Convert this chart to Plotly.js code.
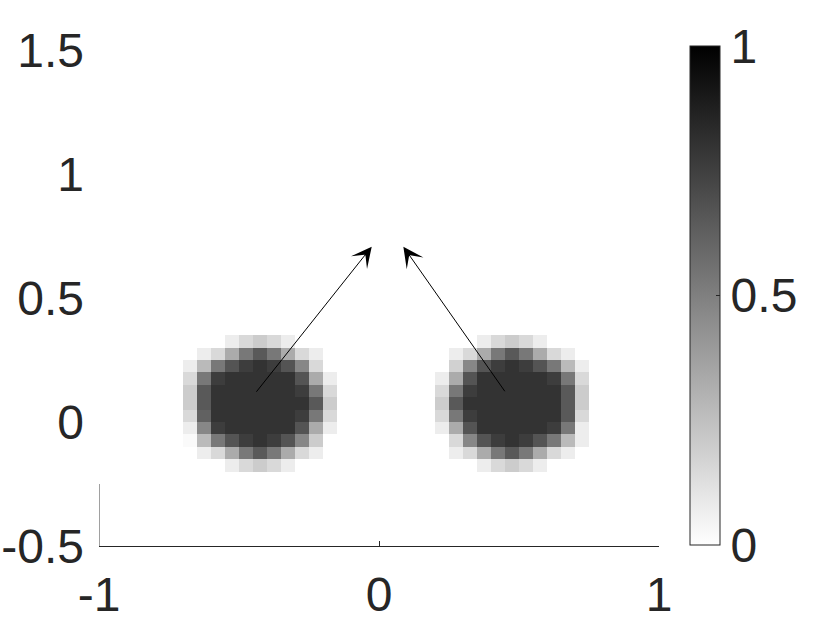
<!DOCTYPE html>
<html>
<head>
<meta charset="utf-8">
<script src="https://cdn.plot.ly/plotly-3.0.1.min.js"></script>
<style>html,body{margin:0;padding:0;background:#fff;}#plot{width:830px;height:623px;}</style>
</head>
<body>
<div id="plot"></div>
<script>
// Grid cell size and extent of the image
const cellSize = 0.05;
const xRange = [-1, 1];
const yRange = [-0.25, 1.5];

// Blob 1: 11x11 cells, rows read top (y=0.325) to bottom (y=-0.175), first column centre x=-0.675
const blob1X0 = -0.675;
const blob1Ytop = 0.325;
const blob1 = [
  [0,0,0,.07,.15,.2,.15,.07,0,0,0],
  [0,.07,.15,.33,.53,.65,.53,.33,.15,.07,0],
  [.07,.27,.53,.67,.76,.8,.76,.67,.47,.15,0],
  [.15,.53,.76,.8,.8,.8,.8,.8,.67,.33,.07],
  [.2,.65,.8,.8,.8,.8,.8,.8,.76,.53,.15],
  [.2,.65,.8,.8,.8,.8,.8,.8,.8,.65,.2],
  [.15,.62,.8,.8,.8,.8,.8,.8,.76,.53,.15],
  [.07,.47,.76,.8,.8,.8,.8,.8,.67,.33,.07],
  [.02,.27,.53,.67,.76,.8,.76,.67,.47,.2,0],
  [0,.07,.15,.33,.53,.65,.53,.33,.15,.07,0],
  [0,0,0,.07,.15,.2,.15,.07,0,0,0]
];

// Blob 2: first column centre x=0.225
const blob2X0 = 0.225;
const blob2Ytop = 0.325;
const blob2 = [
  [0,0,0,.07,.15,.2,.15,.07,0,0,0],
  [0,.07,.15,.33,.53,.65,.53,.33,.15,.07,0],
  [0,.18,.47,.67,.76,.8,.76,.67,.53,.27,.07],
  [.07,.33,.67,.8,.8,.8,.8,.8,.76,.53,.15],
  [.15,.53,.76,.8,.8,.8,.8,.8,.8,.65,.2],
  [.2,.65,.8,.8,.8,.8,.8,.8,.8,.65,.2],
  [.15,.53,.76,.8,.8,.8,.8,.8,.8,.65,.15],
  [.07,.33,.67,.8,.8,.8,.8,.8,.76,.53,.07],
  [0,.15,.47,.67,.76,.8,.76,.67,.53,.27,.07],
  [0,.07,.15,.33,.53,.65,.53,.33,.15,.07,0],
  [0,0,0,.07,.15,.2,.15,.07,0,0,0]
];

// Arrows: tail (x0,y0) -> tip (x1,y1)
const arrowTailX = [-0.442, 0.453];
const arrowTailY = [0.116, 0.118];
const arrowTipX = [-0.026, 0.087];
const arrowTipY = [0.707, 0.707];

// Tick labels
const xTicks = [-1, 0, 1];
const xTickText = ['-1', '0', '1'];
const yTicks = [-0.5, 0, 0.5, 1, 1.5];
const yTickText = ['-0.5', '0', '0.5', '1', '1.5'];
const cbTicks = [0, 0.5, 1];
const cbTickText = ['0', '0.5', '1'];

// ---- build grid ----
const nx = Math.round((xRange[1] - xRange[0]) / cellSize);
const ny = Math.round((yRange[1] - yRange[0]) / cellSize);
const xc = [], yc = [];
for (let i = 0; i < nx; i++) xc.push(+(xRange[0] + (i + 0.5) * cellSize).toFixed(4));
for (let j = 0; j < ny; j++) yc.push(+(yRange[0] + (j + 0.5) * cellSize).toFixed(4));
const z = [];
for (let j = 0; j < ny; j++) { z.push(new Array(nx).fill(0)); }
function place(blob, x0, ytop) {
  const ci = Math.round((x0 - xc[0]) / cellSize);
  const rTop = Math.round((ytop - yc[0]) / cellSize);
  for (let r = 0; r < blob.length; r++) {
    for (let c = 0; c < blob[r].length; c++) {
      z[rTop - r][ci + c] = blob[r][c];
    }
  }
}
place(blob1, blob1X0, blob1Ytop);
place(blob2, blob2X0, blob2Ytop);

const font = {family: 'Liberation Sans, Arial, Helvetica, sans-serif', size: 48, color: '#262626'};

const trace = {
  type: 'heatmap',
  x: xc, y: yc, z: z,
  zmin: 0, zmax: 1,
  colorscale: [[0, '#ffffff'], [1, '#000000']],
  hoverinfo: 'skip',
  colorbar: {
    thickness: 30, thicknessmode: 'pixels',
    len: 499, lenmode: 'pixels',
    x: 1.055, xanchor: 'left', xref: 'paper',
    y: 0.505, yanchor: 'middle',
    xpad: 0, ypad: 0,
    outlinewidth: 1, outlinecolor: '#262626',
    tickvals: cbTicks, ticktext: cbTickText,
    ticks: 'inside', ticklen: 4, tickcolor: '#262626',
    tickfont: font,
    ticklabelstandoff: 12
  }
};

const annotations = arrowTailX.map((_, i) => ({
  x: arrowTipX[i], y: arrowTipY[i], xref: 'x', yref: 'y',
  ax: arrowTailX[i], ay: arrowTailY[i], axref: 'x', ayref: 'y',
  showarrow: true, arrowhead: 3, arrowsize: 3.4, arrowwidth: 1,
  arrowcolor: '#000000', standoff: 0, text: ''
}));

const layout = {
  width: 830, height: 623,
  margin: {l: 99, r: 171, t: 50, b: 77, pad: 0},
  paper_bgcolor: '#ffffff', plot_bgcolor: '#ffffff',
  showlegend: false,
  font: font,
  xaxis: {
    range: [-1, 1], tickvals: xTicks, ticktext: xTickText,
    showgrid: false, zeroline: false,
    showline: true, linecolor: '#262626', linewidth: 1,
    ticks: 'inside', ticklen: 5, tickcolor: '#262626', tickwidth: 1,
    tickfont: font, ticklabelstandoff: 6
  },
  yaxis: {
    range: [-0.5, 1.5], tickvals: yTicks, ticktext: yTickText,
    showgrid: false, zeroline: false, showline: false,
    ticks: '', tickfont: font, ticklabelstandoff: 14
  },
  shapes: [{
    type: 'line', xref: 'x', yref: 'y',
    x0: -1, x1: -1, y0: -0.5, y1: yRange[0],
    line: {color: '#808080', width: 1.5}
  }],
  annotations: annotations
};

Plotly.newPlot('plot', [trace], layout, {staticPlot: true, displayModeBar: false});
</script>
</body>
</html>
